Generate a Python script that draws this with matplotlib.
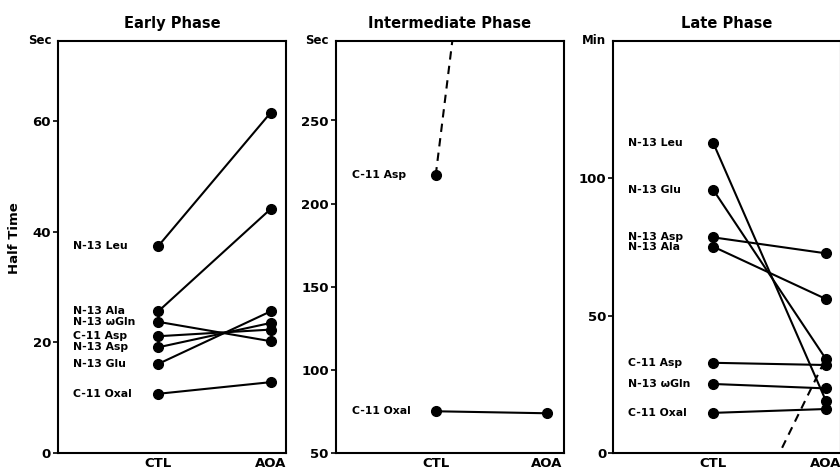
import matplotlib
matplotlib.use("Agg")
import matplotlib.pyplot as plt

plt.rcParams['font.family'] = ['DejaVu Sans']
plt.rcParams['font.weight'] = 'bold'

groups = ['CTL', 'AOA']

early_labels = ['N-13 Leu', 'N-13 Ala', 'N-13 \u03c9Gln', 'C-11 Asp', 'N-13 Asp', 'N-13 Glu', 'C-11 Oxal']
early_ctl = [37.4, 25.6, 23.7, 21.1, 19.1, 16.1, 10.7]
early_aoa = [61.5, 44.1, 20.2, 22.3, 23.5, 25.6, 12.8]

inter_labels = ['C-11 Asp', 'C-11 Oxal']
inter_ctl = [217, 75.1]
inter_aoa = [757, 73.9]
inter_dashed = [True, False]

late_labels = ['N-13 Leu', 'N-13 Glu', 'N-13 Asp', 'N-13 Ala', 'C-11 Asp', 'N-13 \u03c9Gln', 'C-11 Oxal']
late_ctl = [112.7, 95.7, 78.5, 75.1, 32.9, 25.2, 14.7]
late_aoa = [19.1, 34.3, 72.7, 56.1, 32.1, 23.6, 16.1]
late_dash_ctl = -49
late_dash_aoa = 34.5

fig = plt.figure(figsize=(8.4, 4.73), dpi=100)
W, H = 840, 473

def make_ax(x0, x1, y0, y1):
    return fig.add_axes([x0 / W, 1 - y1 / H, (x1 - x0) / W, (y1 - y0) / H])

ax1 = make_ax(58, 286, 40.7, 453)
ax2 = make_ax(335.7, 564, 40.7, 453)
ax3 = make_ax(613.3, 840.5, 40.7, 453.3)

lw = 1.5
ms = 7

def style(ax, title, unit, yticks, ylim, xlim):
    ax.set_xlim(*xlim)
    ax.set_ylim(*ylim)
    ax.set_xticks([0, 1])
    ax.set_xticklabels(groups, fontsize=9.5, fontweight='bold')
    ax.tick_params(axis='x', length=0, pad=3)
    ax.set_yticks(yticks)
    ax.set_yticklabels([str(t) for t in yticks], fontsize=9.5, fontweight='bold')
    ax.tick_params(axis='y', length=3.5, width=1.2, pad=1.5)
    for s in ax.spines.values():
        s.set_linewidth(1.5)
    ax.set_title(title, fontsize=10.5, fontweight='bold', pad=9)
    ax.text(-0.03, 1.0, unit, transform=ax.transAxes, ha='right', va='center',
            fontsize=8.5, fontweight='bold')

lab_x = -0.755
lab_fs = 7.8

# Early phase
for lab, c, a in zip(early_labels, early_ctl, early_aoa):
    ax1.plot([0, 1], [c, a], color='black', lw=lw, marker='o', ms=ms)
    ax1.text(lab_x, c, lab, ha='left', va='center', fontsize=lab_fs, fontweight='bold')
style(ax1, 'Early Phase', 'Sec', [0, 20, 40, 60], (0, 74.5), (-0.892, 1.136))

# Intermediate phase
for lab, c, a, d in zip(inter_labels, inter_ctl, inter_aoa, inter_dashed):
    if d:
        ax2.plot([0, 1], [c, a], color='black', lw=lw, ls=(0, (4, 3)))
        ax2.plot([0], [c], color='black', marker='o', ms=ms)
    else:
        ax2.plot([0, 1], [c, a], color='black', lw=lw, marker='o', ms=ms)
    ax2.text(lab_x, c, lab, ha='left', va='center', fontsize=lab_fs, fontweight='bold')
style(ax2, 'Intermediate Phase', 'Sec', [50, 100, 150, 200, 250], (50, 298), (-0.901, 1.156))

# Late phase
ax3.plot([0, 1], [late_dash_ctl, late_dash_aoa], color='black', lw=lw, ls=(0, (4, 3)))
for lab, c, a in zip(late_labels, late_ctl, late_aoa):
    ax3.plot([0, 1], [c, a], color='black', lw=lw, marker='o', ms=ms)
    ax3.text(lab_x, c, lab, ha='left', va='center', fontsize=lab_fs, fontweight='bold')
style(ax3, 'Late Phase', 'Min', [0, 50, 100], (0, 150), (-0.89, 1.13))

fig.text(15 / W, 1 - 238 / H, 'Half Time', rotation=90, ha='center', va='center',
         fontsize=9.5, fontweight='bold')

fig.savefig('out.png', dpi=100)
